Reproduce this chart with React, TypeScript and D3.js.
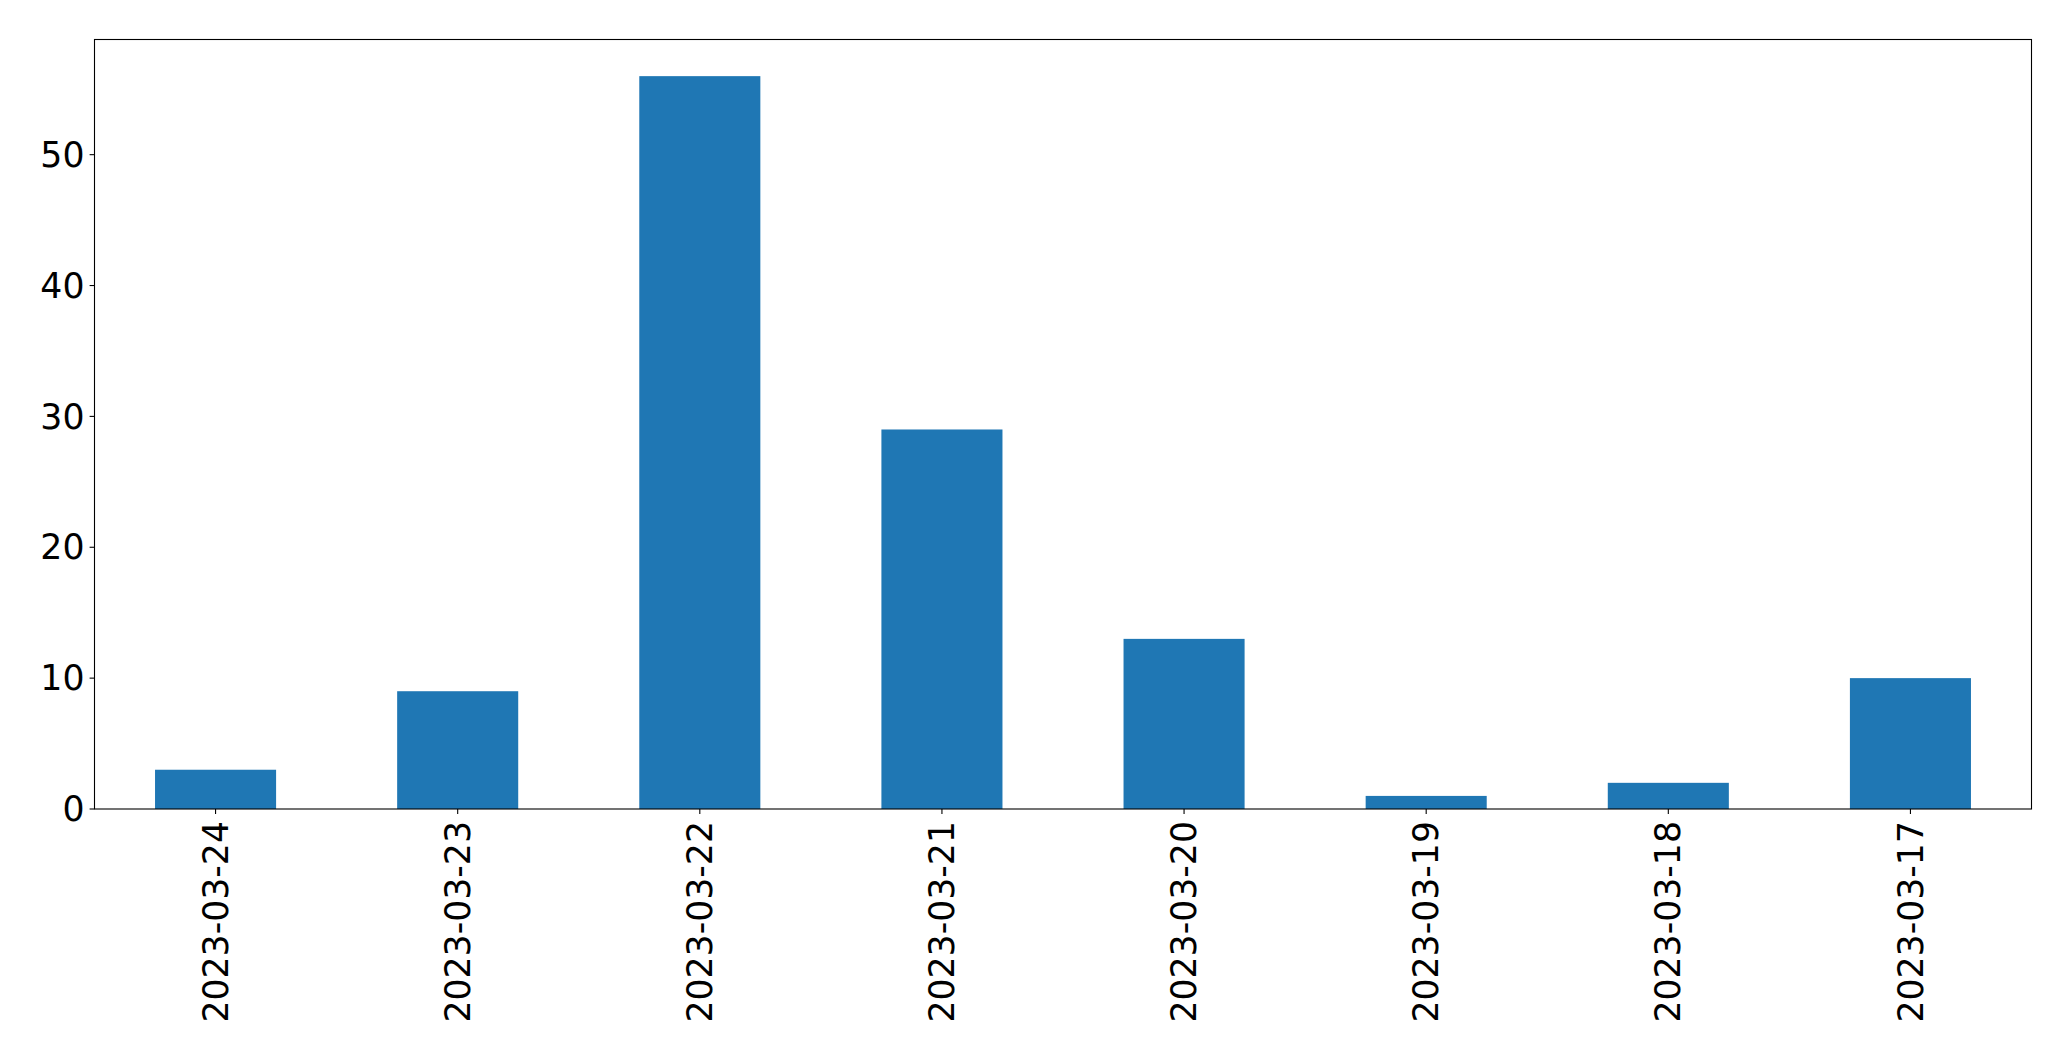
import React from "react";
import * as d3 from "d3";

const categories = ["2023-03-24", "2023-03-23", "2023-03-22", "2023-03-21", "2023-03-20", "2023-03-19", "2023-03-18", "2023-03-17"];
const values = [3, 9, 56, 29, 13, 1, 2, 10];
const yTicks = [0, 10, 20, 30, 40, 50];

const W = 2071;
const H = 1061;
const M = { left: 94.5, right: 2031.5, top: 39.5, bottom: 809 };
const FONT = "'DejaVu Sans', sans-serif";
const FS = 34.7;

export default function App() {
  const x = d3.scaleLinear().domain([-0.5, categories.length - 0.5]).range([M.left, M.right]);
  const yMax = d3.max(values)! * 1.05;
  const y = d3.scaleLinear().domain([0, yMax]).range([M.bottom, M.top]);
  const bw = x(0.25) - x(0);
  return (
    <svg width={W} height={H} style={{ position: "absolute", left: 0, top: 0, background: "#fff" }}>
      <rect x={0} y={0} width={W} height={H} fill="#fff" />
      {values.map((v, i) => (
        <rect key={i} x={x(i) - bw} y={y(v)} width={bw * 2} height={y(0) - y(v)} fill="#1f77b4" />
      ))}
      <rect x={M.left} y={M.top} width={M.right - M.left} height={M.bottom - M.top} fill="none" stroke="#000" strokeWidth={1.1} />
      {yTicks.map((t) => (
        <g key={t}>
          <line x1={M.left - 4.9} x2={M.left} y1={y(t)} y2={y(t)} stroke="#000" strokeWidth={1.1} />
          <text x={M.left - 10} y={y(t)} dy="0.35em" textAnchor="end" fontFamily={FONT} fontSize={FS} fill="#000">{t}</text>
        </g>
      ))}
      {categories.map((c, i) => (
        <g key={c}>
          <line x1={x(i)} x2={x(i)} y1={M.bottom} y2={M.bottom + 4.9} stroke="#000" strokeWidth={1.1} />
          <text
            transform={`translate(${x(i)},${M.bottom + 12}) rotate(-90)`}
            textAnchor="end"
            dy="0.35em"
            fontFamily={FONT}
            fontSize={FS}
            fill="#000"
          >
            {c}
          </text>
        </g>
      ))}
    </svg>
  );
}
